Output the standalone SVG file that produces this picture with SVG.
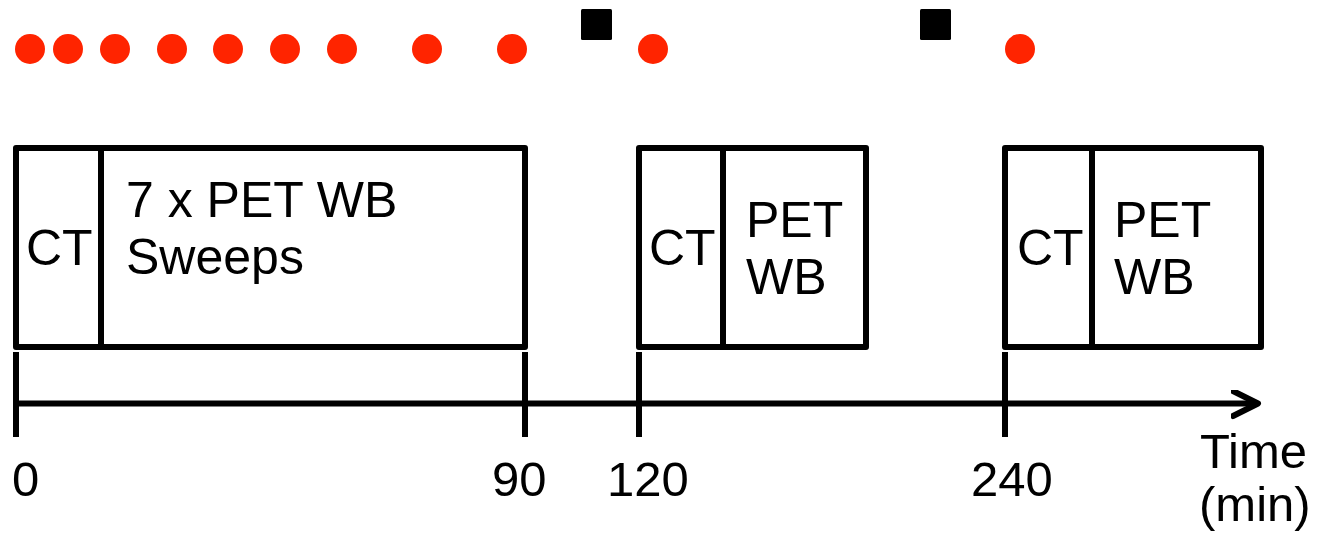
<svg xmlns="http://www.w3.org/2000/svg" width="1331" height="540" viewBox="0 0 1331 540">
  <style>
    .frame { fill: none; stroke: #000; stroke-width: 6; stroke-linejoin: round; }
    .rule { stroke: #000; stroke-width: 6; fill: none; }
    .dose { fill: #ff2400; }
    .blood { fill: #000; }
    .lbl { font-family: "Liberation Sans", Arial, Helvetica, sans-serif; font-size: 49px; fill: #000; }
    .box { font-size: 50px; }
  </style>
  <defs>
    <marker id="arrow" markerUnits="userSpaceOnUse" markerWidth="40" markerHeight="40" refX="27" refY="14" orient="auto">
      <path d="M2,1.5 L27,14 L2,26.5" fill="none" stroke="#000" stroke-width="6" stroke-linecap="round" stroke-linejoin="round"/>
    </marker>
  </defs>

  <!-- sampling markers along the top -->
  <g id="samples">
    <circle class="dose" cx="30" cy="49" r="15"/>
    <circle class="dose" cx="68" cy="49" r="15"/>
    <circle class="dose" cx="115" cy="49" r="15"/>
    <circle class="dose" cx="172" cy="49" r="15"/>
    <circle class="dose" cx="228" cy="49" r="15"/>
    <circle class="dose" cx="285" cy="49" r="15"/>
    <circle class="dose" cx="342" cy="49" r="15"/>
    <circle class="dose" cx="427" cy="49" r="15"/>
    <circle class="dose" cx="512" cy="49" r="15"/>
    <circle class="dose" cx="653" cy="49" r="15"/>
    <circle class="dose" cx="1020" cy="49" r="15"/>
    <rect class="blood" x="581" y="9" width="31" height="31" rx="1.5"/>
    <rect class="blood" x="920" y="9" width="31" height="31" rx="1.5"/>
  </g>

  <!-- scan session 1 -->
  <g id="session1">
    <rect class="frame" x="16" y="148" width="509" height="199"/>
    <line class="rule" x1="101" y1="148" x2="101" y2="347"/>
    <text class="lbl box" x="26" y="265">CT</text>
    <text class="lbl box" x="126" y="217">7 x PET WB</text>
    <text class="lbl box" x="126" y="274">Sweeps</text>
  </g>

  <!-- scan session 2 -->
  <g id="session2">
    <rect class="frame" x="639" y="148" width="227" height="199"/>
    <line class="rule" x1="723" y1="148" x2="723" y2="347"/>
    <text class="lbl box" x="649" y="265">CT</text>
    <text class="lbl box" x="746" y="237">PET</text>
    <text class="lbl box" x="746" y="294">WB</text>
  </g>

  <!-- scan session 3 -->
  <g id="session3">
    <rect class="frame" x="1005" y="148" width="256" height="199"/>
    <line class="rule" x1="1092" y1="148" x2="1092" y2="347"/>
    <text class="lbl box" x="1017" y="265">CT</text>
    <text class="lbl box" x="1114" y="237">PET</text>
    <text class="lbl box" x="1114" y="294">WB</text>
  </g>

  <!-- time axis with ticks -->
  <g id="connectors">
    <line class="rule" x1="16" y1="403.5" x2="1258" y2="403.5" marker-end="url(#arrow)"/>
    <line class="rule" x1="16" y1="352" x2="16" y2="437"/>
    <line class="rule" x1="525" y1="352" x2="525" y2="437"/>
    <line class="rule" x1="639" y1="352" x2="639" y2="437"/>
    <line class="rule" x1="1005" y1="352" x2="1005" y2="437"/>
  </g>

  <g id="axis-labels">
    <text class="lbl" x="12" y="496">0</text>
    <text class="lbl" x="492" y="496">90</text>
    <text class="lbl" x="607" y="496">120</text>
    <text class="lbl" x="971" y="496">240</text>
    <text class="lbl" x="1200" y="468">Time</text>
    <text class="lbl" x="1199" y="521">(min)</text>
  </g>
</svg>
